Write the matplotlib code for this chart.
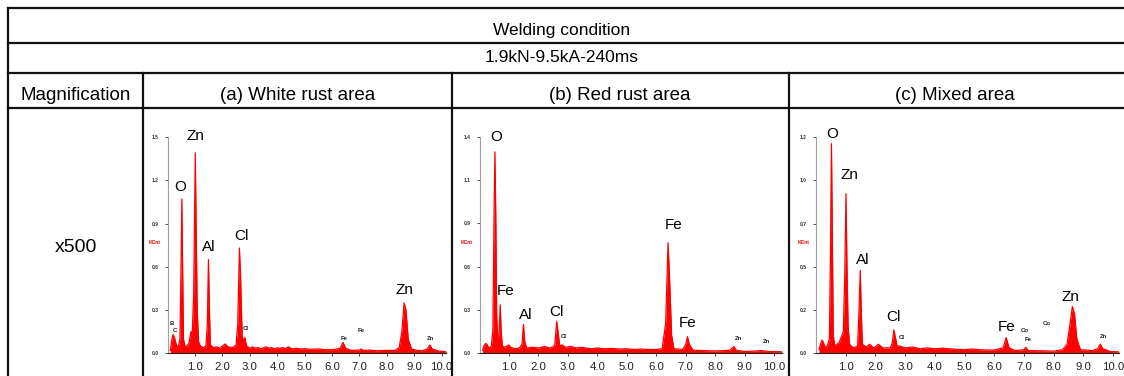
import matplotlib
matplotlib.use("Agg")
import matplotlib.pyplot as plt
from matplotlib.lines import Line2D

plt.rcParams['font.family'] = ['Liberation Sans', 'DejaVu Sans']

# ---------------- data ----------------
energy_a = [0.10, 0.15, 0.20, 0.25, 0.30, 0.35, 0.40, 0.45, 0.49, 0.52, 0.55, 0.58, 0.63, 0.70,
            0.78, 0.85, 0.90, 0.95, 1.01, 1.04, 1.08, 1.13, 1.20, 1.30, 1.40, 1.45, 1.49, 1.52,
            1.56, 1.65, 1.80, 1.90, 2.00, 2.10, 2.20, 2.40, 2.50, 2.56, 2.62, 2.66, 2.72, 2.78,
            2.82, 2.88, 3.00, 3.10, 3.20, 3.30, 3.40, 3.50, 3.60, 3.70, 3.80, 3.90, 4.00, 4.10,
            4.20, 4.30, 4.40, 4.55, 4.70, 4.85, 5.00, 5.20, 5.50, 5.75, 6.00, 6.20,
            6.30, 6.40, 6.50, 6.70, 7.00, 7.06, 7.15, 7.40, 7.60, 8.00, 8.30, 8.45, 8.55, 8.63,
            8.70, 8.78, 8.90, 9.10, 9.30, 9.48, 9.57, 9.66, 9.90, 10.16]
counts_a = [0.02, 0.09, 0.13, 0.11, 0.07, 0.05, 0.05, 0.10, 0.60, 1.07, 0.55, 0.10, 0.05, 0.05,
            0.07, 0.15, 0.14, 0.40, 1.39, 0.90, 0.30, 0.08, 0.05, 0.04, 0.05, 0.20, 0.65, 0.35,
            0.06, 0.04, 0.045, 0.035, 0.05, 0.065, 0.045, 0.04, 0.06, 0.20, 0.73, 0.55, 0.12, 0.08,
            0.11, 0.05, 0.035, 0.045, 0.035, 0.04, 0.03, 0.038, 0.045, 0.035, 0.04, 0.03, 0.038, 0.035,
            0.04, 0.032, 0.045, 0.03, 0.035, 0.03, 0.032, 0.028, 0.03, 0.025, 0.025, 0.03,
            0.035, 0.076, 0.035, 0.02, 0.022, 0.03, 0.02, 0.022, 0.018, 0.02, 0.02, 0.04, 0.15, 0.35,
            0.30, 0.10, 0.03, 0.02, 0.018, 0.03, 0.058, 0.03, 0.015, 0.012]

energy_b = [0.10, 0.15, 0.20, 0.25, 0.30, 0.35, 0.40, 0.45, 0.49, 0.52, 0.55, 0.58, 0.62, 0.66,
            0.70, 0.73, 0.77, 0.85, 0.95, 1.00, 1.05, 1.20, 1.35, 1.44, 1.49, 1.53, 1.60, 1.80,
            2.00, 2.20, 2.40, 2.55, 2.62, 2.66, 2.72, 2.82, 2.90, 3.10, 3.30, 3.45, 3.60, 3.80,
            4.00, 4.25, 4.50, 4.75, 5.00, 5.25, 5.50, 5.75, 6.00, 6.20, 6.32, 6.40, 6.46, 6.52,
            6.60, 6.90, 7.00, 7.06, 7.12, 7.25, 7.60, 8.00, 8.50, 8.63, 8.72, 9.00, 9.30, 9.57,
            9.80, 10.26]
counts_b = [0.02, 0.05, 0.065, 0.06, 0.04, 0.035, 0.05, 0.15, 0.90, 1.33, 0.90, 0.25, 0.10, 0.12,
            0.32, 0.15, 0.05, 0.04, 0.05, 0.055, 0.04, 0.03, 0.035, 0.06, 0.19, 0.08, 0.035, 0.04,
            0.035, 0.045, 0.035, 0.05, 0.21, 0.15, 0.05, 0.055, 0.04, 0.045, 0.035, 0.04, 0.035, 0.03,
            0.035, 0.03, 0.032, 0.028, 0.03, 0.025, 0.028, 0.025, 0.025, 0.03, 0.20, 0.73, 0.45, 0.12,
            0.03, 0.025, 0.06, 0.11, 0.06, 0.02, 0.018, 0.015, 0.02, 0.044, 0.02, 0.012, 0.014, 0.018,
            0.012, 0.01]

energy_c = [0.10, 0.15, 0.20, 0.25, 0.30, 0.38, 0.45, 0.49, 0.52, 0.55, 0.58, 0.63, 0.70, 0.78,
            0.85, 0.92, 0.97, 1.01, 1.04, 1.08, 1.13, 1.25, 1.40, 1.45, 1.49, 1.52, 1.56, 1.70,
            1.80, 1.95, 2.10, 2.25, 2.50, 2.57, 2.62, 2.67, 2.73, 2.82, 3.00, 3.25, 3.50, 3.75,
            4.00, 4.25, 4.50, 4.75, 5.00, 5.25, 5.50, 5.75, 6.00, 6.30, 6.40, 6.50, 6.70, 7.00,
            7.06, 7.15, 7.60, 8.00, 8.30, 8.45, 8.55, 8.63, 8.70, 8.78, 8.90, 9.30, 9.48, 9.57,
            9.66, 9.90, 10.20]
counts_c = [0.02, 0.05, 0.074, 0.06, 0.035, 0.04, 0.08, 0.60, 1.163, 0.65, 0.10, 0.04, 0.05, 0.06,
            0.09, 0.12, 0.45, 0.886, 0.50, 0.15, 0.05, 0.03, 0.04, 0.25, 0.46, 0.25, 0.05, 0.035,
            0.05, 0.03, 0.05, 0.03, 0.03, 0.06, 0.13, 0.09, 0.04, 0.04, 0.03, 0.035, 0.025, 0.03,
            0.025, 0.028, 0.025, 0.022, 0.02, 0.024, 0.02, 0.018, 0.018, 0.03, 0.087, 0.03, 0.015, 0.02,
            0.033, 0.015, 0.014, 0.012, 0.02, 0.05, 0.16, 0.26, 0.22, 0.08, 0.02, 0.015, 0.025, 0.05,
            0.025, 0.01, 0.008]

xmax = [10.16, 10.26, 10.2]
ymax = [1.5, 1.43, 1.2]
ytick_labels_a = ['0.0', '0.3', '0.6', '0.9', '1.2', '1.5']
ytick_labels_b = ['0.0', '0.3', '0.6', '0.9', '1.1', '1.4']
ytick_labels_c = ['0.0', '0.2', '0.5', '0.7', '1.0', '1.2']
xtick_values = [1, 2, 3, 4, 5, 6, 7, 8, 9, 10]
xtick_labels = ['1.0', '2.0', '3.0', '4.0', '5.0', '6.0', '7.0', '8.0', '9.0', '10.0']

# (text, energy, intensity, big?)
labels_a = [('Zn', 1.02, 1.51, True), ('O', 0.45, 1.15, True), ('Al', 1.49, 0.74, True),
            ('Cl', 2.68, 0.81, True), ('Zn', 8.66, 0.44, True),
            ('B', 0.17, 0.21, False), ('C', 0.28, 0.16, False), ('Cl', 2.85, 0.17, False),
            ('Fe', 6.44, 0.10, False), ('Fe', 7.08, 0.16, False), ('Zn', 9.61, 0.10, False)]
labels_b = [('O', 0.55, 1.43, True), ('Fe', 0.90, 0.41, True), ('Al', 1.56, 0.25, True),
            ('Cl', 2.60, 0.27, True), ('Fe', 6.59, 0.85, True), ('Fe', 7.06, 0.20, True),
            ('Cl', 2.87, 0.11, False), ('Zn', 8.80, 0.097, False), ('Zn', 9.75, 0.08, False)]
labels_c = [('O', 0.53, 1.215, True), ('Zn', 1.11, 0.99, True), ('Al', 1.57, 0.52, True),
            ('Cl', 2.60, 0.20, True), ('Fe', 6.42, 0.144, True), ('Zn', 8.58, 0.31, True),
            ('Cl', 2.88, 0.09, False), ('Co', 7.03, 0.124, False), ('Fe', 7.14, 0.078, False),
            ('Co', 7.76, 0.166, False), ('Zn', 9.67, 0.092, False)]

header_1 = 'Welding condition'
header_2 = '1.9kN-9.5kA-240ms'
col_titles = ['Magnification', '(a) White rust area', '(b) Red rust area', '(c) Mixed area']
row_label = 'x500'

# ---------------- figure ----------------
W, H = 1124, 376
fig = plt.figure(figsize=(W / 100, H / 100), dpi=100)

def fx(px):
    return px / W

def fy(py):
    return 1 - py / H

# table lines
lw = 1.6
for y in [8, 43, 73, 108]:
    fig.add_artist(Line2D([fx(8), fx(1124)], [fy(y), fy(y)], color='#111111', lw=lw))
fig.add_artist(Line2D([fx(8), fx(8)], [fy(8), fy(376)], color='#111111', lw=lw))
for x in [143, 452, 789]:
    fig.add_artist(Line2D([fx(x), fx(x)], [fy(73), fy(376)], color='#111111', lw=lw))

fig.text(fx(562), fy(31), header_1, ha='center', va='center', fontsize=12.5)
fig.text(fx(562), fy(58), header_2, ha='center', va='center', fontsize=12.5)
for txt, x in zip(col_titles, [76, 298, 620, 955]):
    fig.text(fx(x), fy(96), txt, ha='center', va='center', fontsize=13.5)
fig.text(fx(76), fy(247), row_label, ha='center', va='center', fontsize=14)

# spectra axes (pixel boxes: left, right, top, bottom)
boxes = [(167.6, 446, 137, 353.3), (479.6, 781.7, 136.7, 353.3), (816, 1119, 137, 353.3)]
energies = [energy_a, energy_b, energy_c]
counts = [counts_a, counts_b, counts_c]
yticklabels = [ytick_labels_a, ytick_labels_b, ytick_labels_c]
labels = [labels_a, labels_b, labels_c]

for i in range(3):
    l, r, t, b = boxes[i]
    ax = fig.add_axes([fx(l), fy(b), (r - l) / W, (b - t) / H])
    ax.fill_between(energies[i], counts[i], 0, color='#ff0000', lw=0)
    ax.plot(energies[i], counts[i], color='#ff0000', lw=0.9)
    ax.set_xlim(0, xmax[i])
    ax.set_ylim(0, ymax[i])
    ax.set_xticks(xtick_values)
    ax.set_xticklabels(xtick_labels, fontsize=8.2)
    yt = [ymax[i] * k / 5 for k in range(6)]
    ax.set_yticks(yt)
    ax.set_yticklabels(yticklabels[i], fontsize=3.6, fontweight='bold')
    ax.tick_params(axis='x', length=2.5, width=0.6, pad=3.5, colors='#222222')
    ax.tick_params(axis='y', length=2, width=0.6, pad=4.5, colors='#333333')
    for s in ['top', 'right']:
        ax.spines[s].set_visible(False)
    ax.spines['left'].set_color('#a0a0a0')
    ax.spines['left'].set_linewidth(0.8)
    ax.spines['bottom'].set_color('#222222')
    ax.spines['bottom'].set_linewidth(0.8)
    ax.patch.set_alpha(0)
    ax.text(-12.6 / (r - l), 0.51, 'KCnt', transform=ax.transAxes, color='#ff0000',
            fontsize=3.6, fontweight='bold', ha='center', va='center')
    for txt, ex, iy, big in labels[i]:
        if big:
            ax.text(ex, iy, txt, ha='center', va='center', fontsize=11, clip_on=False)
        else:
            ax.text(ex, iy, txt, ha='center', va='center', fontsize=4.3,
                    fontweight='bold', clip_on=False, color='#222222')

fig.savefig('out.png', dpi=100)
